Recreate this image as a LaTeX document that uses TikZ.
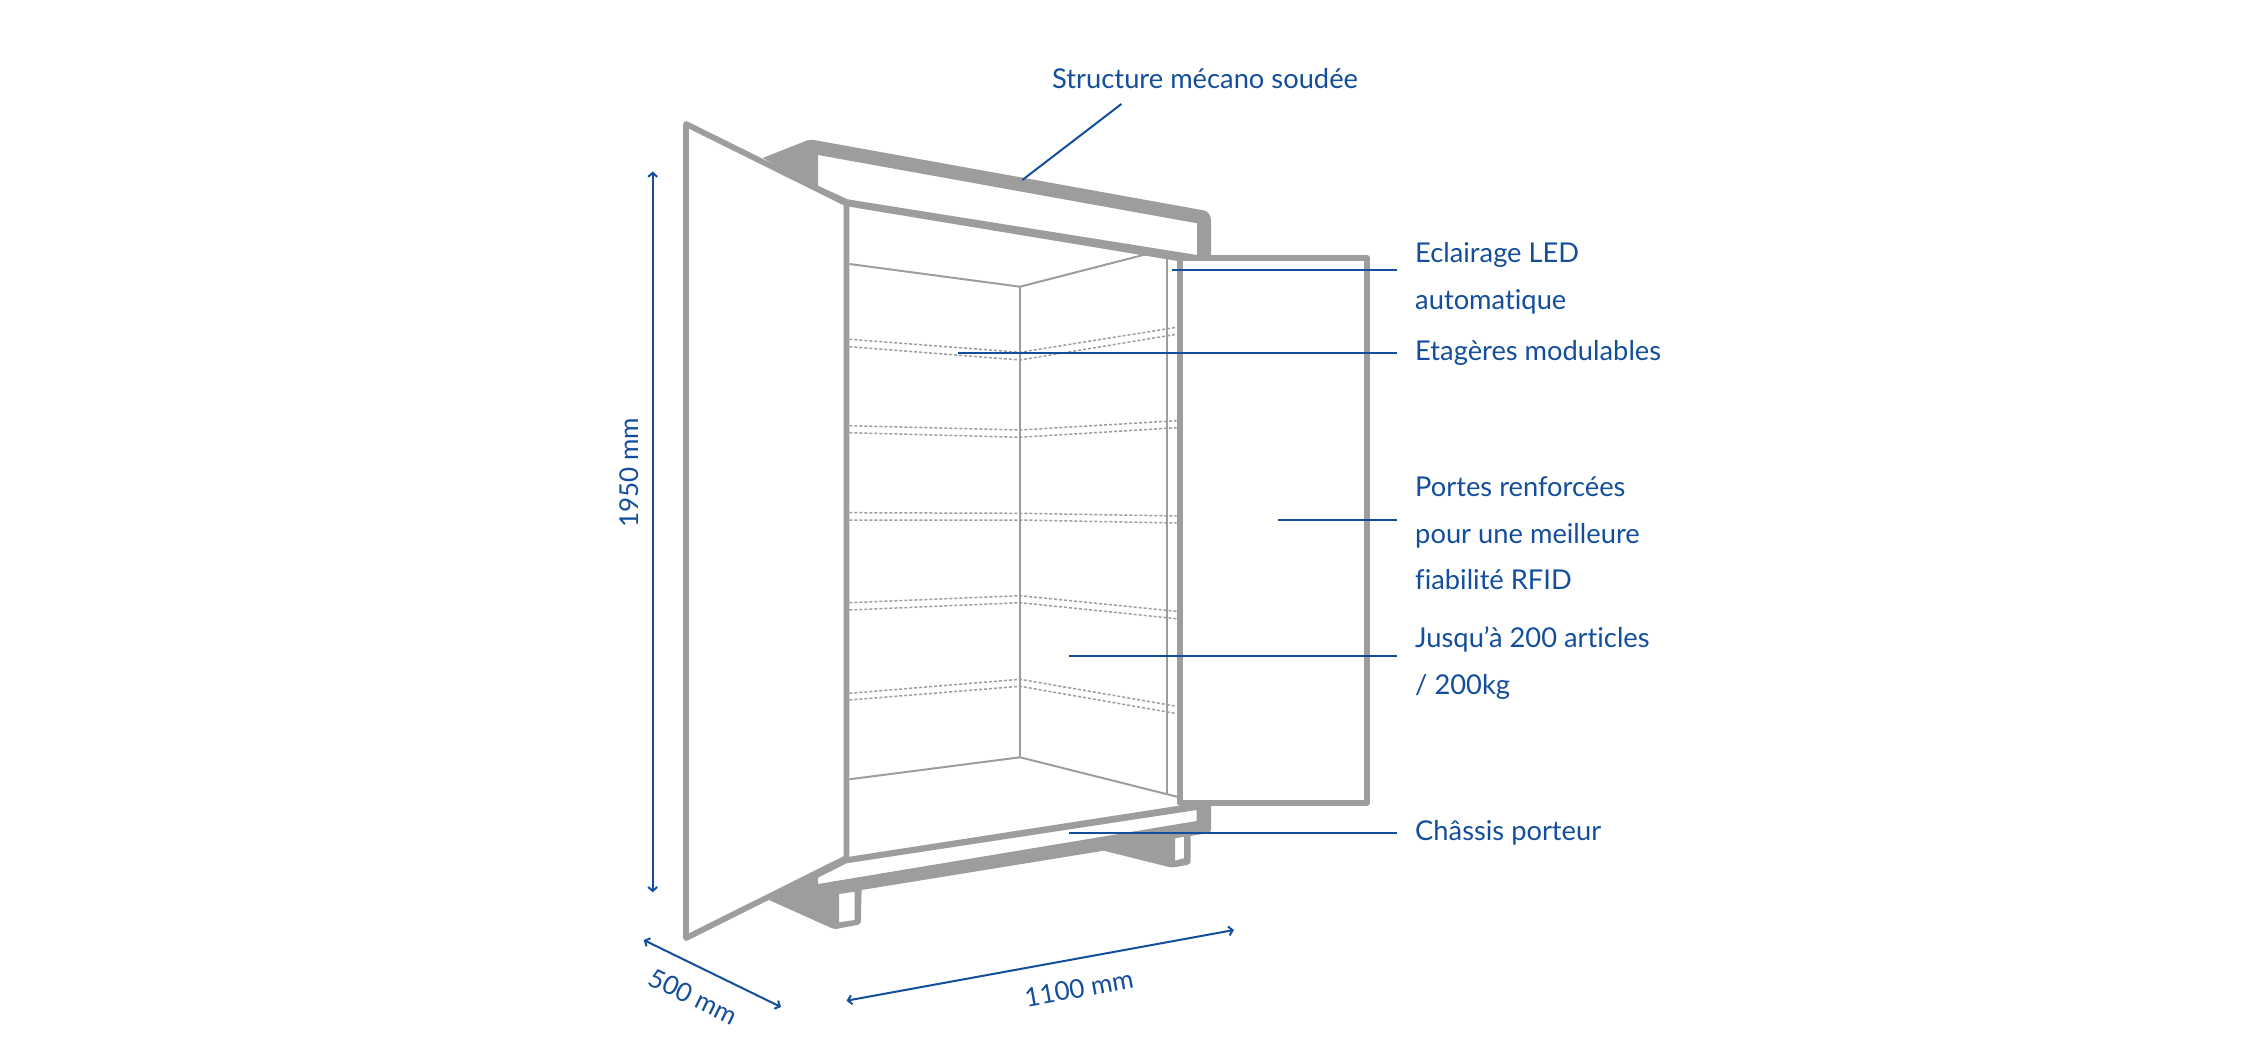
\documentclass[tikz,border=0pt]{standalone}
\usepackage{fontspec}
\usetikzlibrary{arrows.meta}
\setmainfont{Lato}[Ligatures=NoCommon]
\definecolor{cabinetgray}{HTML}{9D9D9C}
\definecolor{noteblue}{HTML}{134E9C}

\begin{document}
\begin{tikzpicture}[x=1pt, y=-1pt,
		solid part/.style = {fill=cabinetgray, even odd rule},
		frame/.style = {draw=cabinetgray, line width=5.8pt, line join=round},
		edge/.style = {draw=cabinetgray, line width=2pt},
		shelf/.style = {draw=cabinetgray, line width=1.5pt, dash pattern=on 3pt off 2pt},
		leader/.style = {draw=noteblue, line width=2pt},
		dim/.style = {draw=noteblue, line width=2pt, {Straight Barb[length=4pt,width=9pt]}-{Straight Barb[length=4pt,width=9pt]}},
		note/.style = {text=noteblue, anchor=west, align=left, inner sep=0pt, font=\fontsize{27.3}{46.5}\selectfont},
		dimnote/.style = {text=noteblue, inner sep=0pt, font=\fontsize{26}{30}\selectfont}]
	\useasboundingbox (0,0) rectangle (2241,1040);

	\fill[solid part] [rounded corners=3pt] (762.6,158) -- (810,139.3) -- (1207,211) -- (1211,217) -- (1211,255) [sharp corners] -- (1211,261) -- (1177.4,261) -- (849.4,206.7) -- (846.5,204) -- cycle
		(818,155) -- (1197,223.3) -- (1197,255) -- (847.5,199.3) -- (818,185.7) -- cycle;
	\fill[solid part] [sharp corners] (769,900) [rounded corners=3pt] -- (834.3,929.3) -- (860.8,924.3) [sharp corners] -- (861.6,890) -- (1103.7,850.7) [rounded corners=3pt] -- (1171.8,867.7) -- (1190.6,864.3) [sharp corners] -- (1190.6,836) [rounded corners=3pt] -- (1211,832.5) [sharp corners] -- (1211,803) -- (1177,806) -- (849.4,856.7) -- (846.5,858) -- cycle
		(846.5,863.3) -- (1196.7,810) -- (1196.7,821) -- (818,884) -- (818,877.7) -- cycle
		(839.2,894) -- (854.7,891.7) -- (854.7,920) -- (839.2,922.3) -- cycle
		(1175,838.3) -- (1184,836.7) -- (1184,858.3) -- (1175,860.7) -- cycle;

	\draw[edge] (1020,286.7) -- (1020,757.3);
	\draw[edge] (1167,257.7) -- (1167,794);
	\draw[edge] (849.4,264) -- (1020,286.7) -- (1146,254.3);
	\draw[edge] (849.4,779.3) -- (1020,757.3) -- (1177,796.7);

	\draw[shelf] (849.4,339.3) -- (1020,352.3) -- (1176.6,327.3);
	\draw[shelf] (849.4,346.7) -- (1020,360) -- (1176.6,334.3);
	\draw[shelf] (849.4,425.7) -- (1020,430) -- (1176.6,420.7);
	\draw[shelf] (849.4,432.7) -- (1020,437.3) -- (1176.6,427.7);
	\draw[shelf] (849.4,512.7) -- (1020,513.3) -- (1176.6,516);
	\draw[shelf] (849.4,520) -- (1020,520) -- (1176.6,523);
	\draw[shelf] (849.4,602.7) -- (1020,595.7) -- (1176.6,611.3);
	\draw[shelf] (849.4,610) -- (1020,602.7) -- (1176.6,618.7);
	\draw[shelf] (849.4,693.3) -- (1020,679.3) -- (1175,706);
	\draw[shelf] (849.4,700) -- (1020,686.3) -- (1175,713.3);

	\draw[frame] (686,124) -- (846.5,203.5) -- (846.5,858) -- (686,938) -- cycle;
	\draw[frame] (1180,258) rectangle (1367,803);

	\node[note] (structure) at (1052,79) {Structure mécano soudée};
	\node[note] (eclairage) at (1415,278.5) {Eclairage LED\\automatique};
	\node[note] (etageres) at (1415,353) {Etagères modulables};
	\node[note] (portes) at (1415,533.5) {Portes renforcées\\pour une meilleure\\fiabilité RFID};
	\node[note] (jusqua) at (1415,663) {Jusqu’à 200 articles\\/ 200kg};
	\node[note] (chassis) at (1415,833) {Châssis porteur};
	\node[dimnote, rotate=90] (hauteur) at (629,473) {1950 mm};
	\node[dimnote, rotate=-26] (profondeur) at (693.5,996.5) {500 mm};
	\node[dimnote, rotate=10.3] (largeur) at (1079,988.3) {1100 mm};

	\coordinate (structure a) at (1121.4,104);
	\coordinate (structure b) at (1022.3,180);
	\coordinate (eclairage a) at (1397.3,270);
	\coordinate (eclairage b) at (1172,270);
	\coordinate (etageres a) at (1397.3,352.7);
	\coordinate (etageres b) at (957.7,352.7);
	\coordinate (portes a) at (1397.3,520);
	\coordinate (portes b) at (1277.5,520);
	\coordinate (jusqua a) at (1397.3,656.3);
	\coordinate (jusqua b) at (1069,656.3);
	\coordinate (chassis a) at (1397.3,832.7);
	\coordinate (chassis b) at (1069,832.7);
	\coordinate (hauteur a) at (652.7,171.5);
	\coordinate (hauteur b) at (652.7,892.3);
	\coordinate (profondeur a) at (643.7,940);
	\coordinate (profondeur b) at (781,1007);
	\coordinate (largeur a) at (846.5,1000.7);
	\coordinate (largeur b) at (1234,930);

	\draw[leader] (structure a) -- (structure b);
	\draw[leader] (eclairage a) -- (eclairage b);
	\draw[leader] (etageres a) -- (etageres b);
	\draw[leader] (portes a) -- (portes b);
	\draw[leader] (jusqua a) -- (jusqua b);
	\draw[leader] (chassis a) -- (chassis b);
	\draw[dim] (hauteur a) -- (hauteur b);
	\draw[dim] (profondeur a) -- (profondeur b);
	\draw[dim] (largeur a) -- (largeur b);
\end{tikzpicture}
\end{document}
